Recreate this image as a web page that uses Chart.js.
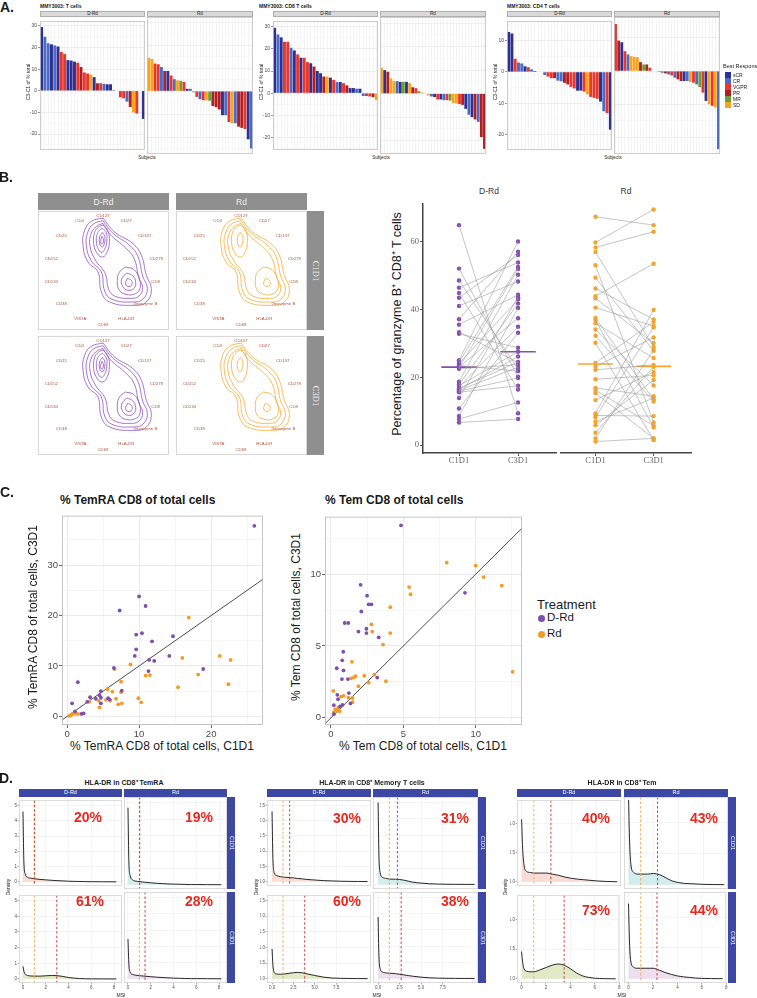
<!DOCTYPE html>
<html>
<head>
<meta charset="utf-8">
<script src="https://cdn.jsdelivr.net/npm/chart.js@4.4.1/dist/chart.umd.min.js"></script>
<style>
  body { margin: 0; background: #fff; }
  #root { position: relative; width: 757px; height: 998px; overflow: hidden; font-family: "Liberation Sans", Arial, sans-serif; }
  .t { position: absolute; white-space: nowrap; line-height: 1; }
  canvas { position: absolute; }
</style>
</head>
<body>
<div id="root"></div>
<script>
// ---------------- A: waterfall data (C3 - C1 of % total) ----------------
const responses = ['sCR', 'CR', 'VGPR', 'PR', 'MR', 'SD'];

const tDRd = [29.5, 25.0, 22.0, 21.5, 21.0, 20.5, 18.0, 17.0, 14.2, 14.0, 13.5, 13.0, 11.0, 8.5, 8.0, 7.5, 6.3, 3.5, 3.5, 3.2, 3.0, 3.0, 0.3, 0.0, -3.0, -3.5, -5.0, -7.5, -10.0, -10.5, 0.0, -13.0];
const tDRdResp = ['sCR','CR','CR','sCR','CR','sCR','VGPR','VGPR','sCR','sCR','sCR','VGPR','PR','VGPR','VGPR','SD','sCR','PR','VGPR','CR','sCR','sCR','sCR','SD','VGPR','VGPR','CR','PR','SD','VGPR','SD','sCR'];
const tRd = [14.5, 14.0, 12.0, 11.7, 10.5, 8.8, 8.8, 6.8, 5.2, 4.7, 4.5, 4.0, 1.0, 1.0, -0.5, -2.5, -3.5, -4.0, -4.0, -4.2, -6.5, -7.0, -8.0, -10.5, -10.5, -13.5, -14.0, -14.0, -15.5, -16.0, -16.5, -21.0, -25.0];
const tRdResp = ['SD','SD','VGPR','VGPR','CR','PR','sCR','VGPR','CR','SD','MR','VGPR','sCR','CR','MR','VGPR','CR','VGPR','SD','MR','PR','PR','PR','sCR','CR','VGPR','SD','CR','PR','PR','VGPR','sCR','CR'];

const cd8DRd = [29.5, 26.5, 25.2, 23.2, 23.2, 20.5, 19.3, 17.5, 16.0, 16.0, 14.0, 13.5, 12.0, 10.0, 9.0, 7.5, 7.5, 7.0, 6.0, 5.0, 5.0, 4.5, 3.5, 2.3, 2.3, 2.0, 2.0, -1.3, -1.3, -1.5, -1.8, -3.2];
const cd8DRdResp = ['sCR','CR','sCR','VGPR','VGPR','CR','sCR','VGPR','sCR','VGPR','VGPR','sCR','PR','sCR','sCR','PR','SD','sCR','VGPR','CR','sCR','VGPR','PR','sCR','sCR','CR','sCR','CR','VGPR','VGPR','PR','SD'];
const cd8Rd = [11.0, 10.0, 9.3, 6.5, 5.3, 5.3, 5.0, 5.0, 5.0, 4.5, 2.7, 2.3, 1.0, 0.5, 0.0, -0.8, -1.2, -1.5, -2.5, -2.5, -2.8, -2.8, -3.0, -4.0, -4.2, -4.5, -4.8, -6.5, -9.0, -10.0, -11.0, -12.0, -18.5, -23.5];
const cd8RdResp = ['SD','sCR','PR','SD','SD','CR','sCR','MR','sCR','SD','PR','VGPR','MR','SD','SD','SD','CR','sCR','VGPR','sCR','CR','VGPR','MR','SD','SD','VGPR','PR','sCR','CR','sCR','PR','CR','PR','PR'];

const cd4DRd = [12.8, 12.3, 4.2, 3.0, 2.7, 1.8, 1.5, 0.8, 0.3, -0.1, 0.0, -1.0, -1.5, -2.0, -2.0, -2.8, -3.0, -3.5, -4.0, -4.8, -5.3, -6.0, -6.0, -6.3, -7.2, -8.0, -8.3, -8.6, -9.5, -12.6, -13.2, -18.5];
const cd4DRdResp = ['sCR','sCR','VGPR','CR','CR','sCR','VGPR','CR','sCR','SD','SD','CR','VGPR','VGPR','PR','CR','CR','PR','PR','VGPR','VGPR','sCR','sCR','VGPR','SD','VGPR','VGPR','VGPR','sCR','CR','VGPR','sCR'];
const cd4Rd = [14.2, 9.2, 8.7, 6.0, 5.0, 4.5, 4.3, 4.2, 2.7, 2.0, 2.0, 1.0, 0.0, 0.0, -0.3, -0.5, -0.7, -1.0, -1.3, -2.0, -2.5, -3.0, -3.0, -3.0, -3.3, -3.5, -4.0, -4.8, -6.5, -9.0, -10.0, -10.5, -11.0, -23.5];
const cd4RdResp = ['VGPR','PR','sCR','VGPR','CR','SD','SD','SD','PR','MR','PR','VGPR','SD','SD','MR','CR','PR','CR','VGPR','CR','PR','PR','sCR','CR','SD','VGPR','CR','MR','VGPR','sCR','SD','VGPR','SD','CR'];

const waterTicksHigh = [-25, -20, -15, -10, -5, 0, 5, 10, 15, 20, 25, 30];
const waterTicksCd4 = [-25, -20, -15, -10, -5, 0, 5, 10, 15];

// ---------------- B: radar contour + granzyme B paired values ----------------
const markers = ['CD127', 'CD4', 'CD27', 'CD25', 'CD137', 'CD152', 'CD279', 'CD134', 'CD8', 'CD38', 'Granzyme B', 'VISTA', 'HLA-DR', 'CD69'];
const markerX = [195, 125, 265, 70, 320, 40, 355, 40, 353, 70, 322, 127, 265, 195];
const markerY = [15, 31, 31, 76, 76, 143, 143, 213, 213, 279, 279, 325, 325, 341];

const cOuter = [[195,21],[230,63],[285,98],[310,133],[325,193],[340,233],[325,273],[285,283],[215,273],[190,243],[180,183],[150,153],[135,103],[140,58],[160,31],[195,21]];
const cMid = [[195,29],[224,66],[276,104],[300,137],[314,195],[328,232],[315,264],[283,273],[222,265],[200,240],[190,183],[160,150],[145,103],[150,62],[168,38],[195,29]];
const cInner = [[195,37],[216,70],[262,110],[288,142],[302,198],[314,230],[303,255],[280,262],[232,256],[212,235],[202,188],[172,147],[156,105],[160,66],[176,46],[195,37]];
const cUpA = [[195,42],[210,60],[214,92],[208,122],[194,138],[178,128],[167,98],[170,64],[182,48],[195,42]];
const cUpB = [[194,52],[205,66],[206,92],[200,115],[190,124],[180,112],[175,90],[178,68],[185,57],[194,52]];
const cUpC = [[193,64],[200,76],[199,98],[192,108],[185,98],[185,78],[193,64]];
const cUpD = [[192,76],[196,84],[195,96],[190,99],[188,88],[192,76]];
const cLowA = [[262,168],[288,176],[304,204],[306,232],[292,248],[264,250],[243,236],[238,208],[244,184],[262,168]];
const cLowB = [[266,186],[284,194],[293,214],[288,232],[270,238],[254,226],[251,204],[266,186]];
const cLowC = [[268,202],[280,208],[282,220],[273,227],[263,219],[268,202]];
const ringsDRd = [cOuter, cMid, cInner, cUpA, cUpB, cUpC, cUpD, cLowA, cLowB, cLowC];
const ringsRd = [cOuter, cMid, cInner, cUpA, cUpC, cLowA, cLowC];

const visits = ['C1D1', 'C3D1'];
const gzbDRdC1 = [64.8, 52.0, 48.5, 46.4, 44.8, 43.4, 41.0, 37.1, 35.5, 33.3, 32.8, 25.0, 24.5, 24.0, 23.5, 23.0, 22.5, 22.8, 18.7, 17.9, 17.2, 16.7, 16.1, 15.9, 15.6, 16.4, 13.9, 10.8, 8.6, 7.7, 6.7, 17.5];
const gzbDRdC3 = [9.4, 20.2, 22.5, 53.8, 16.4, 56.0, 48.2, 57.0, 44.3, 24.3, 28.7, 60.0, 52.5, 42.9, 21.8, 37.4, 23.7, 51.9, 50.2, 41.7, 34.9, 24.5, 23.0, 19.8, 17.5, 26.1, 43.6, 33.1, 40.4, 12.6, 7.7, 27.5];
const gzbRdC1 = [65.6, 58.2, 56.8, 55.5, 51.7, 48.1, 45.0, 42.8, 42.2, 39.5, 36.5, 35.9, 35.0, 33.2, 31.4, 29.4, 23.6, 22.5, 21.6, 18.9, 16.4, 15.8, 14.9, 12.9, 9.1, 8.5, 8.0, 6.7, 5.7, 3.5, 1.9, 1.0];
const gzbRdC3 = [63.2, 67.7, 61.3, 28.2, 6.5, 27.1, 36.1, 52.1, 29.3, 34.2, 13.0, 5.0, 25.0, 17.1, 12.5, 1.4, 35.4, 30.9, 23.0, 20.0, 14.0, 5.5, 1.9, 21.0, 38.8, 8.3, 33.8, 13.5, 18.7, 22.5, 27.3, 1.9];
const gzbMedDRd = [23.0, 27.5];
const gzbMedRd = [23.3, 22.6];
const gzbTicks = [0, 20, 40, 60];

// ---------------- C: scatter data ----------------
const temraDRdX = [26.0, 10.0, 10.9, 7.3, 14.7, 9.6, 10.4, 11.8, 9.6, 9.4, 14.2, 11.4, 12.1, 18.9, 6.5, 11.3, 1.5, 0.7, 7.6, 4.7, 4.5, 3.2, 2.8, 4.0, 4.7, 5.7, 5.9, 4.7, 2.3, 2.0, 1.1];
const temraDRdY = [37.8, 23.8, 21.9, 21.0, 15.9, 16.2, 16.5, 14.9, 13.3, 12.0, 12.0, 11.2, 11.0, 9.4, 9.6, 9.0, 6.8, 2.6, 5.1, 5.0, 4.2, 3.8, 2.9, 3.5, 3.7, 3.6, 3.4, 2.6, 0.6, 0.5, 1.0];
const temraRdX = [16.9, 21.2, 22.7, 16.0, 8.8, 6.6, 10.9, 11.5, 18.2, 22.4, 15.4, 7.5, 7.5, 6.3, 5.6, 3.1, 4.4, 5.4, 6.0, 4.5, 6.8, 7.6, 7.1, 9.9, 10.3, 0.5, 0.8, 1.2, 1.5, 0.6, 0.3];
const temraRdY = [19.6, 12.0, 11.2, 11.6, 10.3, 9.4, 8.1, 8.2, 8.3, 6.4, 5.8, 6.9, 4.8, 4.9, 5.4, 2.9, 3.1, 3.3, 3.1, 1.8, 3.5, 2.6, 2.4, 3.6, 2.8, 0.2, 0.5, 0.6, 0.5, 0.4, 0.1];
const temDRdX = [4.84, 9.26, 2.05, 2.5, 2.6, 2.8, 2.1, 0.95, 1.2, 1.9, 2.45, 2.45, 3.3, 0.85, 0.78, 0.4, 0.87, 0.76, 1.17, 3.2, 0.44, 1.24, 1.35, 0.49, 0.8, 0.63, 0.2, 0.2];
const temDRdY = [13.4, 8.7, 9.26, 8.5, 7.9, 7.9, 7.4, 6.6, 6.6, 6.0, 6.2, 5.9, 5.6, 4.6, 4.0, 3.45, 3.3, 2.7, 2.7, 2.8, 1.6, 1.72, 1.0, 1.3, 0.9, 0.79, 0.88, 0.25];
const temRdX = [8.0, 10.0, 10.55, 11.8, 5.4, 5.5, 4.1, 12.55, 2.8, 2.85, 4.1, 3.6, 1.45, 1.4, 1.7, 3.0, 2.6, 3.8, 1.9, 2.3, 1.6, 0.16, 0.87, 0.7, 1.2, 1.49, 1.49, 0.3, 0.4, 0.6, 0.2, 0.5];
const temRdY = [10.8, 10.6, 9.8, 9.2, 9.1, 8.6, 7.7, 3.2, 6.5, 6.0, 5.9, 5.1, 3.9, 2.75, 2.9, 3.0, 2.46, 2.55, 2.2, 2.93, 2.83, 1.87, 1.53, 1.47, 1.4, 1.38, 1.09, 0.6, 0.5, 0.45, 0.4, 0.7];
const temraTicks = [0, 5, 10, 15, 20, 25, 30, 35];
const temTicks = [0, 2.5, 5, 7.5, 10, 12.5];

// ---------------- D: HLA-DR densities (order: D-Rd C1D1, Rd C1D1, D-Rd C3D1, Rd C3D1) ----------------
const msiGridTemra = [0, 0.08, 0.2, 0.4, 0.7, 1, 1.5, 2, 2.5, 3, 3.5, 4, 4.5, 5, 5.5, 6, 7, 8.2];
const densTemra = [
  [4.6, 1.3, 0.5, 0.3, 0.24, 0.2, 0.16, 0.13, 0.1, 0.08, 0.06, 0.04, 0.03, 0.02, 0.015, 0.01, 0.005, 0],
  [4.7, 1.4, 0.55, 0.3, 0.22, 0.19, 0.15, 0.12, 0.09, 0.07, 0.05, 0.04, 0.03, 0.02, 0.01, 0.01, 0.005, 0],
  [0.8, 0.5, 0.3, 0.22, 0.19, 0.18, 0.18, 0.2, 0.22, 0.21, 0.16, 0.09, 0.05, 0.02, 0.01, 0.005, 0, 0],
  [2.45, 0.9, 0.4, 0.27, 0.22, 0.19, 0.16, 0.13, 0.1, 0.08, 0.06, 0.04, 0.03, 0.02, 0.01, 0.01, 0.005, 0]
];
const msiGridMem = [0, 0.1, 0.25, 0.5, 1, 1.5, 2, 2.5, 3, 3.5, 4, 5, 6, 7, 8, 9, 10, 11.2];
const densMem = [
  [2.3, 0.8, 0.3, 0.2, 0.16, 0.14, 0.13, 0.12, 0.1, 0.09, 0.07, 0.05, 0.03, 0.02, 0.01, 0.005, 0.002, 0],
  [2.5, 0.9, 0.35, 0.22, 0.18, 0.16, 0.16, 0.15, 0.13, 0.1, 0.07, 0.04, 0.02, 0.01, 0.005, 0.003, 0.001, 0],
  [0.95, 0.45, 0.2, 0.15, 0.14, 0.15, 0.17, 0.19, 0.2, 0.19, 0.16, 0.1, 0.05, 0.02, 0.01, 0.005, 0.002, 0],
  [1.9, 0.7, 0.3, 0.2, 0.17, 0.16, 0.15, 0.13, 0.11, 0.09, 0.07, 0.04, 0.02, 0.01, 0.005, 0.003, 0.001, 0]
];
const msiGridTem = [0, 0.08, 0.2, 0.4, 0.7, 1, 1.5, 2, 2.5, 3, 3.5, 4, 4.5, 5, 5.5, 6, 6.8, 7.7];
const densTem = [
  [1.08, 0.6, 0.28, 0.18, 0.16, 0.15, 0.15, 0.15, 0.13, 0.11, 0.08, 0.06, 0.045, 0.035, 0.025, 0.015, 0.005, 0],
  [1.36, 0.7, 0.3, 0.2, 0.17, 0.17, 0.17, 0.18, 0.16, 0.11, 0.06, 0.035, 0.02, 0.015, 0.01, 0.005, 0.002, 0],
  [0.46, 0.3, 0.17, 0.13, 0.12, 0.12, 0.15, 0.19, 0.23, 0.25, 0.23, 0.17, 0.1, 0.05, 0.025, 0.01, 0.003, 0],
  [1.22, 0.6, 0.27, 0.19, 0.17, 0.17, 0.17, 0.17, 0.14, 0.1, 0.07, 0.045, 0.03, 0.02, 0.01, 0.005, 0.002, 0]
];
const cutTemra = [1.0, 1.0, 1.0, 1.0], medTemra = [1.0, 1.03, 2.97, 1.5];
const cutMem = [1.29, 1.3, 1.29, 1.3], medMem = [2.07, 2.24, 3.83, 2.68];
const cutTem = [0.99, 0.97, 1.0, 1.0], medTem = [2.36, 2.33, 3.49, 2.33];
const pctTemra = ['20%', '19%', '61%', '28%'];
const pctMem = ['30%', '31%', '60%', '38%'];
const pctTem = ['40%', '43%', '73%', '44%'];

// ---------------- helpers ----------------
const root = document.getElementById('root');
Chart.defaults.font.family = '"Liberation Sans", Arial, sans-serif';
Chart.defaults.animation = false;
Chart.defaults.responsive = false;
Chart.defaults.plugins.legend.display = false;
Chart.defaults.plugins.tooltip.enabled = false;

const respColors = { sCR: '#2E3192', CR: '#4A6CC7', VGPR: '#E8372C', PR: '#AF1F24', MR: '#6A9F3C', SD: '#F7A51E' };
const purple = '#7E4FAE', orange = '#F59A23';

function label(s, x, y, o) {
  o = o || {};
  const d = document.createElement('div');
  d.className = 't';
  d.textContent = s;
  d.style.left = x + 'px';
  d.style.top = y + 'px';
  d.style.fontSize = (o.size || 10) + 'px';
  d.style.fontWeight = o.weight || 'normal';
  d.style.color = o.color || '#1A1A1A';
  if (o.family) d.style.fontFamily = o.family;
  const tr = o.align === 'left' ? 'translate(0,-50%)' : 'translate(-50%,-50%)';
  d.style.transform = tr + (o.rot ? ' rotate(' + o.rot + 'deg)' : '');
  root.appendChild(d);
  return d;
}
function rect(x, y, w, h, bg, border) {
  const d = document.createElement('div');
  d.style.cssText = 'position:absolute;box-sizing:border-box;left:' + x + 'px;top:' + y + 'px;width:' + w + 'px;height:' + h + 'px;background:' + bg + ';' + (border ? 'border:0.6px solid ' + border + ';' : '');
  root.appendChild(d);
}
// keep only the listed tick values that fall inside the axis range
function fixedTicks(values) {
  return s => { s.ticks = values.filter(v => v >= s.min - 1e-9 && v <= s.max + 1e-9).map(v => ({ value: v })); };
}
function makeChart(box, m, cfg, frame, extraDraw) {
  const W = box.w + m.l + m.r, H = box.h + m.t + m.b;
  const cv = document.createElement('canvas');
  cv.width = W; cv.height = H;
  cv.style.left = (box.x - m.l) + 'px';
  cv.style.top = (box.y - m.t) + 'px';
  cv.style.width = W + 'px';
  cv.style.height = H + 'px';
  root.appendChild(cv);
  cfg.options.maintainAspectRatio = false;
  cfg.options.layout = { padding: { left: 0, right: m.r, top: m.t, bottom: 0 }, autoPadding: false };
  cfg.options.scales.x.afterFit = s => { s.height = m.b; };
  cfg.options.scales.y.afterFit = s => { s.width = m.l; };
  cfg.plugins = [{
    id: 'extras',
    afterDatasetsDraw(chart) {
      const a = chart.chartArea, c = chart.ctx;
      if (extraDraw) extraDraw(chart);
      if (frame) {
        c.save();
        c.strokeStyle = frame; c.lineWidth = 0.8;
        c.strokeRect(a.left + 0.4, a.top + 0.4, a.right - a.left - 0.8, a.bottom - a.top - 0.8);
        c.restore();
      }
    }
  }];
  return new Chart(cv, cfg);
}

// ---------------- A ----------------
function waterfall(box, vals, resp, yr, ticks, showY) {
  const m = { l: showY ? 12 : 0, r: 0, t: 0, b: 0 };
  makeChart(box, m, {
    type: 'bar',
    data: {
      labels: vals.map((v, i) => i + 1),
      datasets: [{ data: vals, backgroundColor: resp.map(r => respColors[r]), barPercentage: 0.9, categoryPercentage: 1, borderWidth: 0 }]
    },
    options: {
      scales: {
        x: { grid: { offset: false, color: '#EDEDED', lineWidth: 0.6, drawTicks: false }, ticks: { display: false }, border: { display: false } },
        y: {
          min: yr[0], max: yr[1], afterBuildTicks: fixedTicks(ticks),
          ticks: { display: showY, font: { size: 5 }, color: '#4D4D4D', padding: 1, callback: v => (v % 10 === 0 ? v : '') },
          grid: {
            color: c => (c.tick && c.tick.value % 10 === 0 ? '#E4E4E4' : '#F3F3F3'), lineWidth: 0.6,
            drawTicks: showY, tickLength: 2, tickColor: c => (c.tick && c.tick.value % 10 === 0 ? '#555' : 'rgba(0,0,0,0)')
          },
          border: { display: false }
        }
      }
    }
  }, '#C4C4C4');
}
function panelA(title, titleX, yLabX, boxes, series, yr, ticks, subjX) {
  label(title, titleX, 6, { size: 5, weight: 'bold', align: 'left' });
  ['D-Rd', 'Rd'].forEach((f, i) => {
    rect(boxes[i].x, 11, boxes[i].w, 6, '#D9D9D9', '#AFAFAF');
    label(f, boxes[i].x + boxes[i].w / 2, 14, { size: 4.5, color: '#1A1A1A' });
    waterfall({ x: boxes[i].x, y: 17, w: boxes[i].w, h: 137 }, series[i][0], series[i][1], yr, ticks, i === 0);
  });
  label('C3-C1 of % total', yLabX, 82, { size: 5, rot: -90 });
  label('Subjects', subjX, 158, { size: 4.5 });
}
label('A.', 7, 7, { size: 14, weight: 'bold', family: '"Liberation Sans Narrow", "Liberation Sans", Arial' });
panelA('MMY3003: T cells', 40, 28, [{ x: 40, w: 105 }, { x: 147, w: 106 }], [[tDRd, tDRdResp], [tRd, tRdResp]], [-27.4, 32.3], waterTicksHigh, 147);
panelA('MMY3003: CD8 T cells', 259, 261, [{ x: 273, w: 105 }, { x: 380, w: 106 }], [[cd8DRd, cd8DRdResp], [cd8Rd, cd8RdResp]], [-25.7, 32.6], waterTicksHigh, 381);
panelA('MMY3003: CD4 T cells', 507, 495, [{ x: 507, w: 105 }, { x: 614, w: 106 }], [[cd4DRd, cd4DRdResp], [cd4Rd, cd4RdResp]], [-25.0, 16.3], waterTicksCd4, 613);
// legend
label('Best Response', 723, 67, { size: 5.5, align: 'left' });
responses.forEach((r, i) => {
  rect(725, 72 + i * 6, 6, 5.5, respColors[r]);
  label(r, 733, 75 + i * 6, { size: 5, align: 'left' });
});

// ---------------- B ----------------
label('B.', 6, 177, { size: 14, weight: 'bold', family: '"Liberation Sans Narrow", "Liberation Sans", Arial' });
function contour(box, rings, color) {
  makeChart(box, { l: 0, r: 0, t: 0, b: 0 }, {
    type: 'scatter',
    data: {
      datasets: rings.map(r => ({
        data: r.map(p => ({ x: p[0], y: p[1] })), showLine: true, borderColor: color, borderWidth: 0.8, pointRadius: 0, tension: 0.45
      }))
    },
    options: {
      scales: {
        x: { min: 0, max: 393, ticks: { display: false }, grid: { display: false }, border: { display: false } },
        y: { min: 0, max: 357, reverse: true, ticks: { display: false }, grid: { display: false }, border: { display: false } }
      }
    }
  }, '#CFCFCF');
  markers.forEach((mk, i) => {
    label(mk, box.x + markerX[i] / 3, box.y + markerY[i] / 3, { size: 4.3, color: '#B3553A' });
  });
}
const bCols = [{ x: 38, w: 131 }, { x: 176, w: 131 }];
const bRows = [{ y: 211, h: 119 }, { y: 336, h: 119 }];
['D-Rd', 'Rd'].forEach((f, i) => {
  rect(bCols[i].x, 193, bCols[i].w, 17, '#8F8F8F');
  label(f, bCols[i].x + bCols[i].w / 2, 202, { size: 8.5, color: '#F2F2F2' });
});
visits.forEach((v, j) => {
  rect(307, bRows[j].y, 17, bRows[j].h, '#8F8F8F');
  label(v, 315.5, bRows[j].y + bRows[j].h / 2, { size: 8.5, color: '#F2F2F2', rot: 90, family: '"Liberation Serif", serif' });
});
contour({ x: 38, y: 211, w: 131, h: 119 }, ringsDRd, '#8E55C2');
contour({ x: 176, y: 211, w: 131, h: 119 }, ringsRd, '#F9AC35');
contour({ x: 38, y: 336, w: 131, h: 119 }, ringsDRd, '#8E55C2');
contour({ x: 176, y: 336, w: 131, h: 119 }, ringsRd, '#F9AC35');

function dotPlot(box, c1, c3, med, color, showY) {
  const pairs = [];
  c1.forEach((v, i) => { pairs.push({ x: 1, y: v }, { x: 2, y: c3[i] }, { x: 1.5, y: null }); });
  const pts = c1.map(v => ({ x: 1, y: v })).concat(c3.map(v => ({ x: 2, y: v })));
  const medLine = [{ x: 0.7, y: med[0] }, { x: 1.3, y: med[0] }, { x: 1.5, y: null }, { x: 1.7, y: med[1] }, { x: 2.3, y: med[1] }];
  makeChart(box, { l: showY ? 16 : 0, r: 0, t: 0, b: 12 }, {
    type: 'scatter',
    data: {
      datasets: [
        { data: pairs, showLine: true, spanGaps: false, borderColor: '#9E9E9E', borderWidth: 0.6, pointRadius: 0 },
        { data: pts, backgroundColor: color, pointRadius: 2.2, borderWidth: 0 },
        { data: medLine, showLine: true, spanGaps: false, borderColor: color, borderWidth: 1.6, pointRadius: 0 }
      ]
    },
    options: {
      scales: {
        x: {
          min: 0.39, max: 2.66, afterBuildTicks: fixedTicks([1, 2]),
          ticks: { font: { size: 8.5, family: '"Liberation Serif", serif' }, color: '#666', padding: 0, callback: v => visits[v - 1] },
          grid: { drawOnChartArea: false, drawTicks: true, tickLength: 3, tickColor: '#555' },
          border: { display: true, color: '#444', width: 1.5 }
        },
        y: {
          min: -2.3, max: 71, afterBuildTicks: fixedTicks(gzbTicks),
          ticks: { display: showY, font: { size: 8.5, family: '"Liberation Serif", serif' }, color: '#666', padding: 1 },
          grid: { display: showY, drawOnChartArea: false, drawTicks: showY, tickLength: 3, tickColor: '#555' },
          border: { display: showY, color: '#444', width: 1.5 }
        }
      }
    }
  });
}
dotPlot({ x: 423, y: 198, w: 134, h: 255 }, gzbDRdC1, gzbDRdC3, gzbMedDRd, '#8450AE', true);
dotPlot({ x: 560, y: 198, w: 132, h: 255 }, gzbRdC1, gzbRdC3, gzbMedRd, '#F8A62A', false);
label('D-Rd', 489, 191, { size: 8.5, color: '#333' });
label('Rd', 626, 191, { size: 8.5, color: '#333' });
label('Percentage of granzyme B\u207A CD8\u207A T cells', 397, 324, { size: 12.5, rot: -90 });

// ---------------- C ----------------
label('C.', 7, 492, { size: 14, weight: 'bold', family: '"Liberation Sans Narrow", "Liberation Sans", Arial' });
function scatterC(box, pX, pY, oX, oY, xr, yr, ticks, major) {
  const lo = Math.min(xr[0], yr[0]), hi = Math.max(xr[1], yr[1]);
  const isMajor = v => Math.abs(v / major - Math.round(v / major)) < 1e-6;
  const axis = (r) => ({
    min: r[0], max: r[1], afterBuildTicks: fixedTicks(ticks),
    ticks: { font: { size: 9.5 }, color: '#4D4D4D', padding: 1, callback: v => (isMajor(v) ? v : '') },
    grid: {
      color: c => (c.tick && isMajor(c.tick.value) ? '#E6E6E6' : '#F4F4F4'), lineWidth: 0.8, tickLength: 3,
      tickColor: c => (c.tick && isMajor(c.tick.value) ? '#444' : 'rgba(0,0,0,0)')
    },
    border: { display: false }
  });
  makeChart(box, { l: 20, r: 0, t: 0, b: 14 }, {
    type: 'scatter',
    data: {
      datasets: [
        { data: pX.map((x, i) => ({ x, y: pY[i] })), backgroundColor: purple, pointRadius: 1.9, borderWidth: 0 },
        { data: oX.map((x, i) => ({ x, y: oY[i] })), backgroundColor: orange, pointRadius: 1.9, borderWidth: 0 },
        { data: [{ x: lo, y: lo }, { x: hi, y: hi }], showLine: true, borderColor: '#3A3A3A', borderWidth: 0.9, pointRadius: 0 }
      ]
    },
    options: { scales: { x: axis(xr), y: axis(yr) } }
  }, '#B8B8B8');
}
scatterC({ x: 62, y: 509, w: 201, h: 216 }, temraDRdX, temraDRdY, temraRdX, temraRdY, [-0.7, 27.2], [-1.7, 39.8], temraTicks, 10);
scatterC({ x: 325, y: 510, w: 197, h: 215 }, temDRdX, temDRdY, temRdX, temRdY, [-0.41, 13.2], [-0.5, 14.0], temTicks, 5);
label('% TemRA CD8 of total cells', 60, 500, { size: 12, weight: 'bold', align: 'left' });
label('% Tem CD8 of total cells', 325, 500, { size: 12, weight: 'bold', align: 'left' });
label('% TemRA CD8 of total cells, C3D1', 33, 617, { size: 12, rot: -90 });
label('% TemRA CD8 of total cells, C1D1', 162, 746, { size: 12 });
label('% Tem CD8 of total cells, C3D1', 296, 617, { size: 12, rot: -90 });
label('% Tem CD8 of total cells, C1D1', 423, 746, { size: 12 });
label('Treatment', 537, 604, { size: 13, align: 'left' });
[['D-Rd', purple], ['Rd', orange]].forEach((it, i) => {
  const d = document.createElement('div');
  d.style.cssText = 'position:absolute;left:' + 537.5 + 'px;top:' + (614.5 + i * 16) + 'px;width:7px;height:7px;border-radius:50%;background:' + it[1];
  root.appendChild(d);
  label(it[0], 547, 618 + i * 16, { size: 11.5, align: 'left' });
});

// ---------------- D ----------------
label('D.', 6, 778, { size: 14, weight: 'bold', family: '"Liberation Sans Narrow", "Liberation Sans", Arial' });
function densityGrid(title, titleX, cols, stripX, grid, dens, xr, yr, xticks, yticks, fmtX, fmtY, cut, med, pct, pctPos, densX, msiX) {
  const rows = [{ y: 797, h: 92 }, { y: 892, h: 91 }];
  const fills = ['#F9DCD6', '#D3ECEE', '#E1EAC6', '#EEDFF0'];
  label(title, titleX, 782, { size: 7, weight: 'bold' });
  ['D-Rd', 'Rd'].forEach((f, i) => {
    rect(cols[i].x, 789, cols[i].w, 8, '#3D48A5');
    label(f, cols[i].x + cols[i].w / 2, 793, { size: 5.5, color: '#FFFFFF' });
  });
  visits.forEach((v, j) => {
    rect(stripX, rows[j].y, 8, rows[j].h, '#3D48A5');
    label(v, stripX + 4, rows[j].y + rows[j].h / 2, { size: 5.5, color: '#FFFFFF', rot: 90 });
  });
  for (let j = 0; j < 2; j++) {
    for (let i = 0; i < 2; i++) {
      const k = j * 2 + i;
      const showY = i === 0, showX = j === 1;
      makeChart({ x: cols[i].x, y: rows[j].y, w: cols[i].w, h: rows[j].h }, { l: showY ? 7 : 0, r: 0, t: 0, b: showX ? 7 : 0 }, {
        type: 'line',
        data: {
          datasets: [{
            data: grid.map((x, n) => ({ x, y: dens[k][n] })), borderColor: '#111', borderWidth: 0.9,
            backgroundColor: fills[k], fill: 'origin', pointRadius: 0, cubicInterpolationMode: 'monotone'
          }]
        },
        options: {
          scales: {
            x: {
              type: 'linear', min: xr[0], max: xr[1], afterBuildTicks: fixedTicks(xticks),
              ticks: { display: showX, font: { size: 4.5 }, color: '#555', padding: 0.5, callback: fmtX },
              grid: { color: '#EEEEEE', lineWidth: 0.6, drawTicks: showX, tickLength: 1.5, tickColor: '#777' },
              border: { display: false }
            },
            y: {
              min: yr[0], max: yr[1], afterBuildTicks: fixedTicks(yticks),
              ticks: { display: showY, font: { size: 4.5 }, color: '#555', padding: 0.5, callback: fmtY },
              grid: { color: '#EEEEEE', lineWidth: 0.6, drawTicks: showY, tickLength: 1.5, tickColor: '#777' },
              border: { display: false }
            }
          }
        }
      }, '#D4D4D4', chart => {
        const a = chart.chartArea, c = chart.ctx, sx = chart.scales.x;
        c.save();
        c.lineWidth = 0.9;
        c.setLineDash([2.5, 2]);
        [[cut[k], '#F6A443'], [med[k], '#C7302B']].forEach(l => {
          const px = sx.getPixelForValue(l[0]);
          c.strokeStyle = l[1];
          c.beginPath(); c.moveTo(px, a.top); c.lineTo(px, a.bottom); c.stroke();
        });
        c.restore();
      });
      label(pct[k], pctPos[k][0], pctPos[k][1], { size: 14, weight: 'bold', color: '#E8281E' });
    }
  }
  label('Density', densX, 887, { size: 5, rot: -90 });
  label('MSI', msiX, 995, { size: 5 });
}
const fmtInt = v => String(v);
const fmt1 = v => v.toFixed(1);
densityGrid('HLA-DR in CD8\u207A TemRA', 124, [{ x: 19, w: 103 }, { x: 124, w: 103 }], 227,
  msiGridTemra, densTemra, [-0.35, 8.7], [-0.26, 5.35], [0, 2, 4, 6, 8], [0, 1, 2, 3, 4, 5], fmtInt, fmtInt,
  cutTemra, medTemra, pctTemra, [[88, 817], [199, 817], [90, 901], [199, 901]], 8, 121);
densityGrid('HLA-DR in CD8\u207A Memory T cells', 372, [{ x: 267, w: 104 }, { x: 373, w: 105 }], 478,
  msiGridMem, densMem, [-0.59, 11.6], [-0.14, 2.67], [0, 2.5, 5, 7.5], [0, 0.5, 1, 1.5, 2, 2.5], fmt1, fmt1,
  cutMem, medMem, pctMem, [[347, 818], [455, 818], [347, 901], [455, 901]], 256, 377);
densityGrid('HLA-DR in CD8\u207A Tem', 622, [{ x: 517, w: 104 }, { x: 624, w: 104 }], 728,
  msiGridTem, densTem, [-0.37, 8.0], [-0.07, 1.41], [0, 2, 4, 6, 8], [0, 0.5, 1], fmtInt, fmt1,
  cutTem, medTem, pctTem, [[596, 818], [704, 818], [596, 910], [704, 910]], 505, 622);
</script>
</body>
</html>
